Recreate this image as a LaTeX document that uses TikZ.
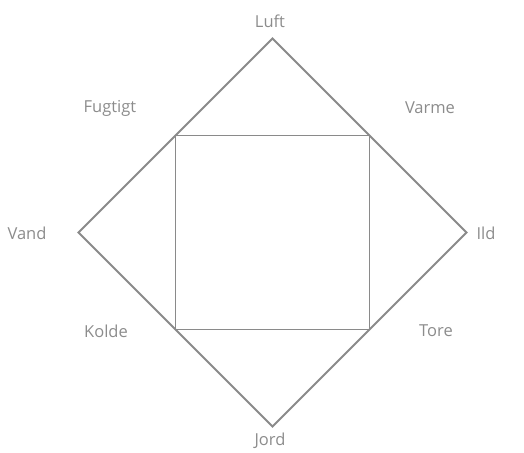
\documentclass[tikz,border=0pt]{standalone}
\usepackage{fontspec}
\setmainfont{Open Sans}
\usepackage{tikz}
\usetikzlibrary{positioning}
\definecolor{edge}{HTML}{8A8A8A}
\definecolor{lbl}{HTML}{8C8C8C}
\tikzset{
  outline/.style = {draw=edge, line width=1.8pt, line join=miter},
  elem/.style    = {font=\fontsize{16.5}{19}\selectfont, text=lbl, inner sep=0pt},
}
\begin{document}
\begin{tikzpicture}[x=1pt, y=-1pt]
  \useasboundingbox (0,0) rectangle (524,452);
  % the four elements on the corners of the diamond
  \coordinate (luft) at (272.5,38.5);
  \coordinate (ild)  at (466.5,232.5);
  \coordinate (jord) at (272.5,426.5);
  \coordinate (vand) at (78.5,232.5);
  % the four qualities on the inner square
  \coordinate (fugtigt) at (175.5,135.5);
  \coordinate (varme)   at (369.5,135.5);
  \coordinate (tore)    at (369.5,329.5);
  \coordinate (kolde)   at (175.5,329.5);

  \draw[outline] (luft) -- (ild) -- (jord) -- (vand) -- cycle;
  \draw[outline] (fugtigt) -- (varme) -- (tore) -- (kolde) -- cycle;

  \node[elem] (tLuft)    at (270,21)  {Luft};
  \node[elem] (tIld)     at (486,233) {Ild};
  \node[elem] (tJord)    at (270,441) {Jord};
  \node[elem] (tVand)    at (27,233)  {Vand};
  \node[elem] (tFugtigt) at (110,108) {Fugtigt};
  \node[elem] (tVarme)   at (430,108) {Varme};
  \node[elem] (tTore)    at (436,331) {Tore};
  \node[elem] (tKolde)   at (106,331) {Kolde};
\end{tikzpicture}
\end{document}
